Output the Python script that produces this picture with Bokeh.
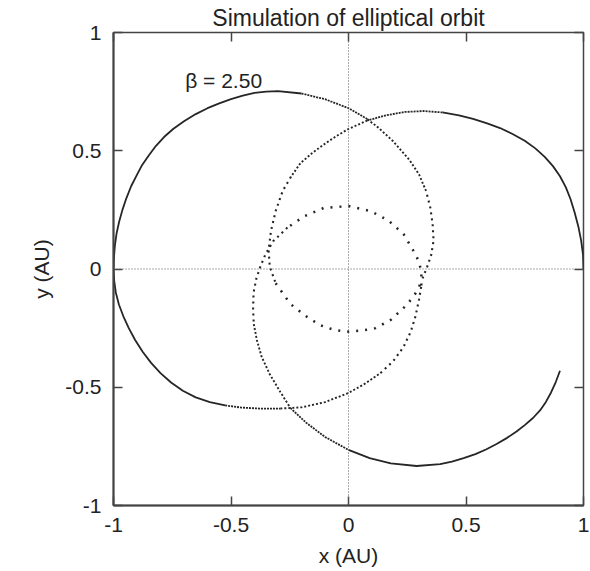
import math

from bokeh.embed import file_html
from bokeh.models import FixedTicker, Label, LinearAxis, Range1d, Span
from bokeh.plotting import figure
from bokeh.resources import INLINE

# ---- trajectory, read as (x, y) in AU, in the order the planet travels ----
# first approach: from aphelion (1, 0) over the top down to the left crossing
leg1_x = [1.0, 0.998, 0.99, 0.978, 0.962, 0.945, 0.925, 0.90, 0.87, 0.835,
          0.795, 0.75, 0.70, 0.645, 0.59, 0.53, 0.47, 0.40, 0.32, 0.24, 0.16,
          0.08, 0.0, -0.05, -0.10, -0.155, -0.204, -0.245, -0.28, -0.31,
          -0.33, -0.34]
leg1_y = [0.0, 0.06, 0.12, 0.18, 0.24, 0.295, 0.345, 0.392, 0.435, 0.474,
          0.51, 0.542, 0.57, 0.596, 0.616, 0.635, 0.65, 0.662, 0.668, 0.664,
          0.65, 0.628, 0.592, 0.563, 0.53, 0.49, 0.448, 0.39, 0.33, 0.245,
          0.16, 0.08]
# first perihelion passage (lower half of the inner loop)
leg2_x = [-0.335, -0.31, -0.247, -0.18, -0.12, -0.06, 0.0, 0.06, 0.115, 0.18,
          0.234, 0.27, 0.294, 0.315]
leg2_y = [0.01, -0.06, -0.148, -0.20, -0.238, -0.258, -0.265, -0.26, -0.25,
          -0.215, -0.165, -0.125, -0.09, -0.04]
# full excursion out to aphelion at (-1, 0) and back
leg3_x = [0.335, 0.352, 0.362, 0.358, 0.348, 0.33, 0.30, 0.26, 0.19, 0.13,
          0.08, 0.0, -0.10, -0.20, -0.30, -0.35, -0.40, -0.45, -0.50, -0.55,
          -0.60, -0.65, -0.70, -0.745, -0.785, -0.82, -0.85, -0.878, -0.902,
          -0.925, -0.945, -0.962, -0.976, -0.987, -0.994, -0.998, -1.0,
          -0.997, -0.99, -0.977, -0.958, -0.935, -0.908, -0.876, -0.84,
          -0.80, -0.755, -0.705, -0.65, -0.59, -0.525, -0.455, -0.38, -0.29,
          -0.20, -0.10, 0.0, 0.07, 0.136, 0.19, 0.234, 0.265, 0.285, 0.30,
          0.31, 0.31]
leg3_y = [0.01, 0.06, 0.12, 0.19, 0.26, 0.33, 0.40, 0.46, 0.54, 0.595, 0.634,
          0.68, 0.718, 0.742, 0.752, 0.75, 0.745, 0.733, 0.718, 0.70, 0.68,
          0.655, 0.625, 0.593, 0.558, 0.52, 0.48, 0.44, 0.395, 0.35, 0.30,
          0.25, 0.20, 0.15, 0.10, 0.05, 0.0, -0.05, -0.10, -0.15, -0.20,
          -0.25, -0.30, -0.35, -0.397, -0.44, -0.48, -0.515, -0.543, -0.563,
          -0.577, -0.586, -0.59, -0.59, -0.585, -0.563, -0.524, -0.485, -0.44,
          -0.39, -0.33, -0.265, -0.20, -0.13, -0.07, -0.01]
# second perihelion passage (upper half of the inner loop)
leg4_x = [0.298, 0.277, 0.234, 0.17, 0.094, 0.0, -0.106, -0.19, -0.26, -0.32,
          -0.353]
leg4_y = [0.035, 0.076, 0.148, 0.205, 0.245, 0.266, 0.258, 0.222, 0.175,
          0.118, 0.063]
# last stretch down and round towards (1, 0)
leg5_x = [-0.374, -0.392, -0.404, -0.406, -0.403, -0.39, -0.37, -0.335, -0.29,
          -0.247, -0.18, -0.10, 0.0, 0.09, 0.18, 0.29, 0.39, 0.44, 0.49, 0.54,
          0.585, 0.63, 0.675, 0.715, 0.75, 0.785, 0.815, 0.84, 0.862, 0.882,
          0.90]
leg5_y = [0.013, -0.04, -0.10, -0.17, -0.233, -0.30, -0.37, -0.445, -0.52,
          -0.588, -0.65, -0.71, -0.765, -0.80, -0.822, -0.833, -0.825, -0.814,
          -0.80, -0.783, -0.763, -0.74, -0.714, -0.687, -0.66, -0.63, -0.598,
          -0.562, -0.522, -0.478, -0.43]

tick_values = [-1, -0.5, 0, 0.5, 1]
tick_labels = ["-1", "-0.5", "0", "0.5", "1"]

FONT = "Liberation Sans"
INK = "#262626"
FRAME = "#444444"

path_x = leg1_x + leg2_x + leg3_x + leg4_x + leg5_x
path_y = leg1_y + leg2_y + leg3_y + leg4_y + leg5_y

p = figure(
    frame_width=470, frame_height=473,
    x_range=Range1d(-1, 1), y_range=Range1d(-1, 1),
    min_border_left=113, min_border_right=7,
    min_border_top=32, min_border_bottom=66,
    output_backend="svg", toolbar_location=None,
    title="Simulation of elliptical orbit",
)
p.background_fill_color = "white"
p.border_fill_color = "white"
p.xgrid.visible = False
p.ygrid.visible = False
p.outline_line_color = FRAME
p.outline_line_width = 1.5

p.title.text_font = FONT
p.title.text_font_size = "23px"
p.title.text_font_style = "normal"
p.title.text_color = "#222222"
p.title.align = "center"
p.title.standoff = 3

overrides = dict(zip(tick_values, tick_labels))
for ax, label in ((p.xaxis[0], "x (AU)"), (p.yaxis[0], "y (AU)")):
    ax.ticker = FixedTicker(ticks=tick_values)
    ax.major_label_overrides = overrides
    ax.minor_tick_line_color = None
    ax.major_tick_in = 9
    ax.major_tick_out = 0
    ax.major_tick_line_color = FRAME
    ax.major_tick_line_width = 1.5
    ax.axis_line_color = FRAME
    ax.axis_line_width = 2
    ax.major_label_text_font = FONT
    ax.major_label_text_font_size = "21px"
    ax.major_label_text_color = "#222222"
    ax.major_label_standoff = 12
    ax.axis_label = label
    ax.axis_label_text_font = FONT
    ax.axis_label_text_font_size = "21px"
    ax.axis_label_text_font_style = "normal"
    ax.axis_label_text_color = "#222222"
    ax.axis_label_standoff = 9

# mirrored inward ticks on the top and right edges (no labels there)
for side in ("above", "right"):
    mirror = LinearAxis(
        ticker=FixedTicker(ticks=tick_values),
        major_tick_in=9, major_tick_out=0,
        major_tick_line_color=FRAME, major_tick_line_width=1.5,
        minor_tick_line_color=None, axis_line_color=None,
        major_label_text_color=None, major_label_text_font_size="1px",
        major_label_standoff=0,
    )
    p.add_layout(mirror, side)

# dotted zero axes
p.add_layout(Span(location=0, dimension="width", line_color="#555555",
                  line_width=1, line_dash="1 2"))
p.add_layout(Span(location=0, dimension="height", line_color="#555555",
                  line_width=1, line_dash="1 2"))


# the planet moves fast near the sun, so its plotted positions thin out
def stroke_for(r):
    if r >= 0.78:
        return dict(line_dash="solid", line_width=1.8)
    if r >= 0.64:
        return dict(line_dash="2 1", line_width=1.8)
    if r >= 0.47:
        return dict(line_dash="2 2", line_width=1.9)
    if r >= 0.32:
        return dict(line_dash="2 4", line_width=2.1)
    return dict(line_dash="2 7", line_width=2.5)


def seg_radius(i):
    return math.hypot((path_x[i] + path_x[i + 1]) / 2,
                      (path_y[i] + path_y[i + 1]) / 2)


n = len(path_x)
kinds = [stroke_for(seg_radius(i))["line_dash"] for i in range(n - 1)]

# draw consecutive stretches that share one stroke style as one line
start = 0
for i in range(1, n):
    if i == n - 1 or kinds[i] != kinds[start]:
        style = stroke_for(seg_radius(start))
        p.line(path_x[start:i + 1], path_y[start:i + 1], line_color=INK,
               line_cap="butt", line_join="round", **style)
        start = i

p.add_layout(Label(x=-0.695, y=0.795, text="β = 2.50", text_font=FONT,
                   text_font_size="21px", text_color="#222222",
                   text_baseline="alphabetic"))

open("out.html", "w").write(file_html(p, INLINE))
